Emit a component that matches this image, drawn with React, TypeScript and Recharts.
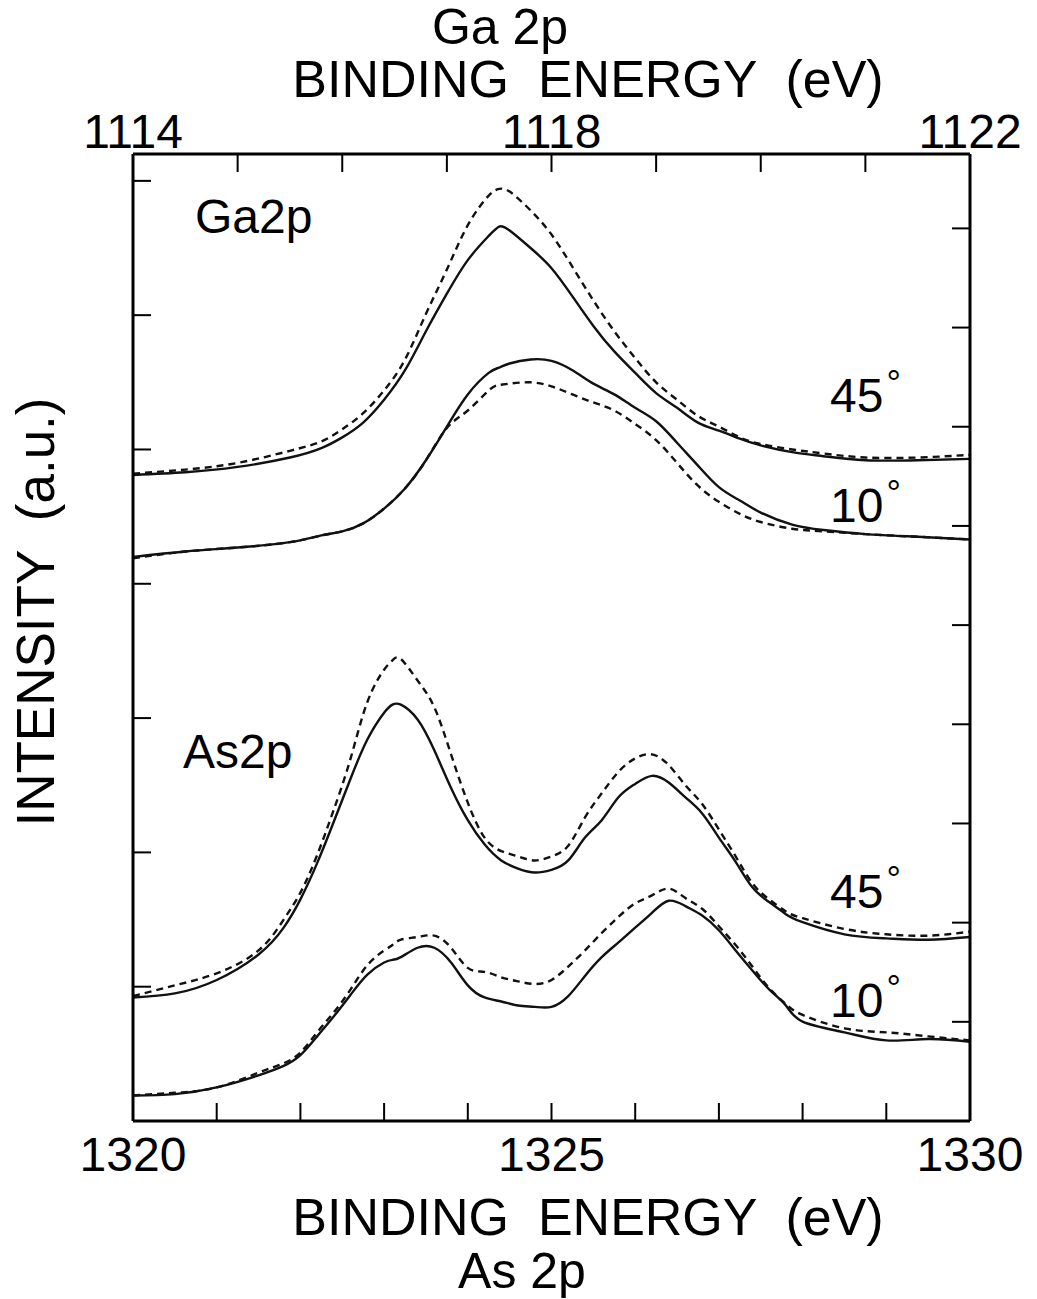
import { LineChart, Line, XAxis, YAxis } from 'recharts';

// Ga 2p spectra, x = Ga 2p binding energy (eV, top axis)
const gaEnergy = [
  1114.0, 1114.5, 1115.0, 1115.5, 1115.8, 1116.0, 1116.2, 1116.4, 1116.6, 1116.8,
  1117.0, 1117.2, 1117.4, 1117.5, 1117.6, 1117.8, 1118.0, 1118.2, 1118.4, 1118.6,
  1118.8, 1119.0, 1119.2, 1119.4, 1119.6, 1119.8, 1120.0, 1120.3, 1120.6, 1121.0,
  1121.5, 1122.0,
];
const gaSolid45 = [
  48.1, 48.3, 48.7, 49.4, 50.1, 50.9, 52.0, 53.7, 55.9, 58.8,
  61.6, 64.1, 65.9, 66.6, 66.3, 65.0, 63.5, 61.4, 59.2, 57.3,
  55.7, 54.2, 53.1, 52.0, 51.4, 50.8, 50.3, 49.8, 49.5, 49.2,
  49.2, 49.3,
];
const gaDashed45 = [
  48.2, 48.5, 49.0, 49.9, 50.6, 51.5, 52.7, 54.4, 56.7, 60.1,
  63.4, 66.7, 68.9, 69.4, 69.2, 67.8, 66.0, 63.6, 61.1, 58.8,
  56.8, 55.0, 53.7, 52.5, 51.7, 50.9, 50.4, 50.0, 49.7, 49.4,
  49.4, 49.6,
];
const gaSolid10 = [
  42.0, 42.4, 42.7, 43.1, 43.6, 43.9, 44.5, 45.6, 47.1, 49.2,
  51.7, 54.1, 55.7, 56.1, 56.4, 56.7, 56.6, 55.9, 54.9, 54.1,
  53.1, 52.1, 50.5, 48.8, 47.2, 46.2, 45.3, 44.4, 44.0, 43.7,
  43.5, 43.3,
];
const gaDashed10 = [
  41.9, 42.4, 42.7, 43.1, 43.6, 43.9, 44.5, 45.6, 47.1, 49.2,
  51.6, 52.9, 54.4, 54.8, 54.9, 55.0, 54.7, 54.1, 53.5, 52.9,
  51.9, 50.7, 49.0, 47.3, 46.1, 45.2, 44.6, 44.1, 43.9, 43.7,
  43.5, 43.3,
];

// As 2p spectra, x = As 2p binding energy (eV, bottom axis)
const asEnergy = [
  1320.0, 1320.5, 1321.0, 1321.5, 1321.8, 1322.0, 1322.2, 1322.4, 1322.6, 1322.8,
  1323.0, 1323.1, 1323.2, 1323.4, 1323.6, 1323.8, 1324.0, 1324.2, 1324.4, 1324.6,
  1324.8, 1325.0, 1325.2, 1325.4, 1325.6, 1325.8, 1326.0, 1326.2, 1326.4, 1326.6,
  1326.8, 1327.0, 1327.2, 1327.4, 1327.6, 1327.8, 1328.0, 1328.5, 1329.0, 1329.5,
  1330.0,
];
const asSolid45 = [
  9.2, 9.5, 10.5, 12.4, 14.4, 16.5, 19.2, 22.3, 25.5, 28.4,
  30.4, 31.0, 31.0, 29.9, 27.6, 24.8, 22.4, 20.6, 19.4, 18.8,
  18.5, 18.7, 19.4, 21.1, 22.4, 24.1, 25.1, 25.7, 25.2, 24.1,
  22.9, 21.1, 19.3, 17.4, 16.3, 15.4, 14.8, 13.9, 13.6, 13.5,
  13.7,
];
const asDashed45 = [
  9.3, 10.1, 11.0, 12.7, 15.0, 17.0, 19.8, 23.2, 27.0, 31.2,
  33.6, 34.3, 34.4, 32.8, 30.8, 27.3, 23.7, 21.1, 20.1, 19.7,
  19.4, 19.7, 20.5, 22.6, 24.4, 26.0, 27.0, 27.3, 26.5, 25.0,
  23.6, 21.7, 19.7, 17.7, 16.5, 15.6, 15.1, 14.3, 13.9, 13.8,
  14.1,
];
const asSolid10 = [
  1.9, 2.0, 2.5, 3.4, 4.1, 4.9, 6.3, 7.8, 9.4, 10.9,
  11.8, 12.0, 12.2, 12.9, 12.9, 11.8, 10.1, 9.2, 8.9, 8.6,
  8.5, 8.5, 9.3, 10.8, 12.2, 13.3, 14.4, 15.5, 16.4, 16.0,
  15.3, 14.2, 12.7, 11.2, 9.8, 8.6, 7.4, 6.6, 6.0, 6.1,
  5.9,
];
const asDashed10 = [
  1.9, 2.1, 2.5, 3.6, 4.3, 5.1, 6.6, 8.1, 9.8, 11.6,
  12.7, 13.1, 13.5, 13.7, 13.8, 12.9, 11.4, 11.1, 10.7, 10.4,
  10.2, 10.5, 11.5, 12.7, 14.0, 15.2, 16.2, 16.8, 17.3, 16.6,
  15.8, 14.5, 13.1, 11.5, 9.9, 8.7, 7.9, 6.9, 6.6, 6.3,
  6.0,
];

const gaTicks = [1114, 1115, 1116, 1117, 1118, 1119, 1120, 1121, 1122];
const gaLabels = [1114, 1118, 1122];
const asTicks = [1320, 1321, 1322, 1323, 1324, 1325, 1326, 1327, 1328, 1329, 1330];
const asLabels = [1320, 1325, 1330];
const leftTicks = [10, 20, 30, 40, 50, 60, 70];
const rightTicks = [10, 20, 30, 40, 50, 60, 70, 80, 90];

const gaRows = gaEnergy.map((e, i) => ({
  e, s45: gaSolid45[i], d45: gaDashed45[i], s10: gaSolid10[i], d10: gaDashed10[i],
}));
const asRows = asEnergy.map((e, i) => ({
  e, s45: asSolid45[i], d45: asDashed45[i], s10: asSolid10[i], d10: asDashed10[i],
}));

const FONT = '"Liberation Sans", Arial, Helvetica, sans-serif';
const W = 1037;
const H = 1299;
const TICK = { fontSize: 48, fill: '#000', fontFamily: FONT };
const AXIS = { stroke: '#000', strokeWidth: 3 };
const TICKLINE = { stroke: '#000', strokeWidth: 2 };
const LINE = { stroke: '#111', strokeWidth: 2.4, dot: false, isAnimationActive: false, type: 'natural' as const };
const DASH = '7 5';

function Deg({ x, y, n }: { x: number; y: number; n: string }) {
  return (
    <text x={x} y={y} fontSize={48} fontFamily={FONT} fill="#000">
      {n}
      <tspan fontSize={36} dx={3} dy={-16}>°</tspan>
    </text>
  );
}

export default function App() {
  const pre = { whiteSpace: 'pre' as const };
  return (
    <div style={{ position: 'relative', width: W, height: H, background: '#fff' }}>
      <style>{'body{margin:0;background:#fff}'}</style>
      <LineChart width={W} height={H} margin={{ top: 152, right: 65, bottom: 176, left: 131 }}>
        <XAxis
          xAxisId="ga" orientation="top" type="number" dataKey="e"
          domain={[1114, 1122]} ticks={gaTicks} allowDataOverflow height={2}
          tickFormatter={(v: number) => (gaLabels.includes(v) ? String(v) : '')}
          tick={TICK} tickSize={-18} tickMargin={24} axisLine={AXIS} tickLine={TICKLINE}
          interval={0}
        />
        <XAxis
          xAxisId="as" orientation="bottom" type="number" dataKey="e"
          domain={[1320, 1330]} ticks={asTicks} allowDataOverflow height={2}
          tickFormatter={(v: number) => (asLabels.includes(v) ? String(v) : '')}
          tick={TICK} tickSize={-18} tickMargin={34} axisLine={AXIS} tickLine={TICKLINE}
          interval={0}
        />
        <YAxis
          yAxisId="left" orientation="left" type="number" domain={[0, 72]}
          ticks={leftTicks} allowDataOverflow width={2} tickFormatter={() => ''}
          tickSize={-18} axisLine={AXIS} tickLine={TICKLINE} interval={0}
        />
        <YAxis
          yAxisId="right" orientation="right" type="number" domain={[0, 97.5]}
          ticks={rightTicks} allowDataOverflow width={2} tickFormatter={() => ''}
          tickSize={-18} axisLine={AXIS} tickLine={TICKLINE} interval={0}
        />
        <Line data={gaRows} dataKey="s45" xAxisId="ga" yAxisId="left" {...LINE} />
        <Line data={gaRows} dataKey="d45" xAxisId="ga" yAxisId="left" {...LINE} strokeDasharray={DASH} />
        <Line data={gaRows} dataKey="s10" xAxisId="ga" yAxisId="left" {...LINE} />
        <Line data={gaRows} dataKey="d10" xAxisId="ga" yAxisId="left" {...LINE} strokeDasharray={DASH} />
        <Line data={asRows} dataKey="s45" xAxisId="as" yAxisId="left" {...LINE} />
        <Line data={asRows} dataKey="d45" xAxisId="as" yAxisId="left" {...LINE} strokeDasharray={DASH} />
        <Line data={asRows} dataKey="s10" xAxisId="as" yAxisId="left" {...LINE} />
        <Line data={asRows} dataKey="d10" xAxisId="as" yAxisId="left" {...LINE} strokeDasharray={DASH} />
      </LineChart>
      <svg width={W} height={H} style={{ position: 'absolute', left: 0, top: 0, pointerEvents: 'none' }}>
        <g fontFamily={FONT} fill="#000">
          <text x={500} y={44} fontSize={50} textAnchor="middle">Ga 2p</text>
          <text x={588} y={97} fontSize={52} textAnchor="middle" style={pre}>BINDING  ENERGY  (eV)</text>
          <text x={588} y={1235} fontSize={52} textAnchor="middle" style={pre}>BINDING  ENERGY  (eV)</text>
          <text x={522} y={1288} fontSize={50} textAnchor="middle">As 2p</text>
          <text x={54} y={612} fontSize={53} textAnchor="middle" transform="rotate(-90 54 612)" style={pre}>
            INTENSITY  (a.u.)
          </text>
          <text x={195} y={233} fontSize={48}>Ga2p</text>
          <text x={183} y={768} fontSize={48}>As2p</text>
        </g>
        <Deg x={830} y={412} n="45" />
        <Deg x={830} y={522} n="10" />
        <Deg x={830} y={908} n="45" />
        <Deg x={830} y={1017} n="10" />
      </svg>
    </div>
  );
}
